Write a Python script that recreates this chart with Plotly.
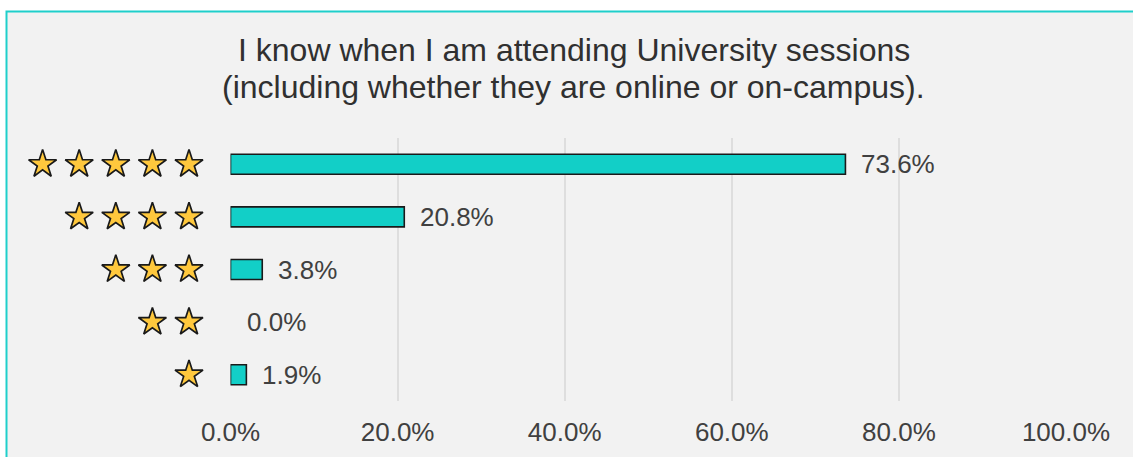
import plotly.graph_objects as go

# Survey result: share of responses per star rating
title_lines = [
    "I know when I am attending University sessions",
    "(including whether they are online or on-campus).",
]
ratings = [5, 4, 3, 2, 1]
shares = [73.6, 20.8, 3.8, 0.0, 1.9]
x_ticks = [0, 20, 40, 60, 80, 100]
x_tick_labels = [f"{t:.1f}%" for t in x_ticks]

W, H = 1133, 457
PLOT_L, PLOT_R = 230.5, 1066.0     # pixel span of the percentage axis
TOP, BOTTOM = 138, 401             # pixel span of the plot area

BAR_FILL = "#12CFC7"
STAR_FILL = "#FFC83D"
TEAL = "#1FCFCB"
FONT = "Liberation Sans, Arial, sans-serif"

fig = go.Figure()

# empty categories get no outline so no stray line is drawn at 0
outline_w = [1.6 if v > 0 else 0 for v in shares]
fig.add_trace(go.Bar(
    x=shares, y=ratings, orientation="h", width=0.38,
    marker=dict(color=BAR_FILL, line=dict(color="#1a1a1a", width=outline_w)),
    xaxis="x", yaxis="y", hoverinfo="skip", showlegend=False,
))

# star glyphs used as row labels, right-aligned in the left gutter
STAR_RIGHT, STAR_STEP = 189, 36.6
sx, sy = [], []
for r in ratings:
    for k in range(r):
        sx.append(STAR_RIGHT - STAR_STEP * k)
        sy.append(r)
fig.add_trace(go.Scatter(
    x=sx, y=sy, mode="markers", xaxis="x2", yaxis="y",
    marker=dict(symbol="star", size=21, color=STAR_FILL,
                line=dict(color="#1a1a1a", width=1.7)),
    hoverinfo="skip", showlegend=False,
))

annotations = []
for r, v in zip(ratings, shares):
    annotations.append(dict(
        x=v, y=r, xref="x", yref="y", text=f"{v:.1f}%", showarrow=False,
        xanchor="left", yanchor="middle", xshift=14,
        font=dict(family=FONT, size=26, color="#404040"),
    ))

plot_h = BOTTOM - TOP
for i, line in enumerate(title_lines):
    cy = 50 + 37 * i
    annotations.append(dict(
        x=573.5 / W, y=(BOTTOM - cy) / plot_h, xref="paper", yref="paper",
        text=line, showarrow=False, xanchor="center", yanchor="middle",
        font=dict(family=FONT, size=32, color="#303030"),
    ))

# chart panel: light grey fill with teal frame
shapes = [dict(
    type="rect", xref="paper", yref="paper", layer="below",
    x0=6.5 / W, x1=1.1, y0=-0.5, y1=(BOTTOM - 11.5) / plot_h,
    fillcolor="#F2F2F2", line=dict(color=TEAL, width=2),
)]

fig.update_layout(
    width=W, height=H, autosize=False,
    margin=dict(l=0, r=0, t=TOP, b=H - BOTTOM, pad=0, autoexpand=False),
    paper_bgcolor="white", plot_bgcolor="rgba(0,0,0,0)",
    font=dict(family=FONT, size=26, color="#404040"),
    xaxis=dict(
        domain=[PLOT_L / W, PLOT_R / W], range=[0, 100],
        tickmode="array", tickvals=x_ticks, ticktext=x_tick_labels,
        showgrid=True, gridcolor="#DEDEDE", gridwidth=1.5,
        zeroline=False, showline=False, ticks="",
        ticklabelstandoff=13, automargin=False,
        tickfont=dict(family=FONT, size=26, color="#404040"),
        fixedrange=True,
    ),
    xaxis2=dict(
        domain=[0, PLOT_L / W], range=[0, PLOT_L], anchor="y",
        visible=False, fixedrange=True, automargin=False,
    ),
    yaxis=dict(
        range=[0.5, 5.5], showticklabels=False, showgrid=False,
        zeroline=False, showline=False, ticks="", fixedrange=True,
        automargin=False,
    ),
    shapes=shapes,
    annotations=annotations,
    showlegend=False,
)

fig.write_html("out.html")
